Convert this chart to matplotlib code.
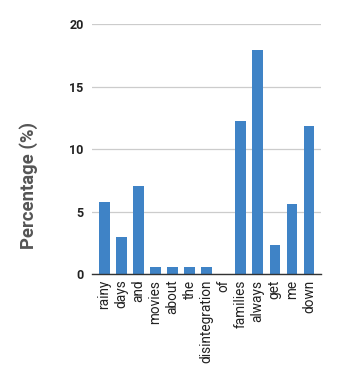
import matplotlib
matplotlib.use("Agg")
import matplotlib.pyplot as plt

categories = ["rainy", "days", "and", "movies", "about", "the", "disintegration",
              "of", "families", "always", "get", "me", "down"]
values = [5.77, 2.95, 7.1, 0.58, 0.58, 0.58, 0.58, 0.0, 12.3, 17.95, 2.32, 5.6, 11.85]
yticks = [0, 5, 10, 15, 20]

plt.rcParams['font.family'] = ['Roboto', 'DejaVu Sans']

fig = plt.figure(figsize=(3.37, 3.71), dpi=100)
ax = fig.add_axes([0.273, 0.261, 0.679, 0.673])

x = list(range(len(categories)))
ax.bar(x, values, width=0.62, color="#3f83c6", zorder=3)

ax.set_xlim(-0.72, len(categories) - 0.3)
ax.set_ylim(0, 20)
ax.set_yticks(yticks)
ax.set_yticklabels([str(t) for t in yticks], fontsize=9, fontweight='bold', color="#222222")
ax.set_xticks(x)
ax.set_xticklabels(categories, rotation=90, fontsize=9.8, color="#222222")
ax.tick_params(axis='both', length=0, pad=4)
ax.tick_params(axis='y', pad=6)

ax.grid(axis='y', color="#cccccc", linewidth=0.9, zorder=0)
for s in ['top', 'right', 'left']:
    ax.spines[s].set_visible(False)
ax.spines['bottom'].set_color("#333333")
ax.spines['bottom'].set_linewidth(1.0)
ax.spines['bottom'].set_zorder(4)

ax.set_ylabel("Percentage (%)", fontsize=13.3, color="#555555", fontweight='bold')
ax.yaxis.set_label_coords(-0.275, 0.357)
ax.yaxis.label.set_verticalalignment('center')

fig.savefig("out.png", dpi=100)
